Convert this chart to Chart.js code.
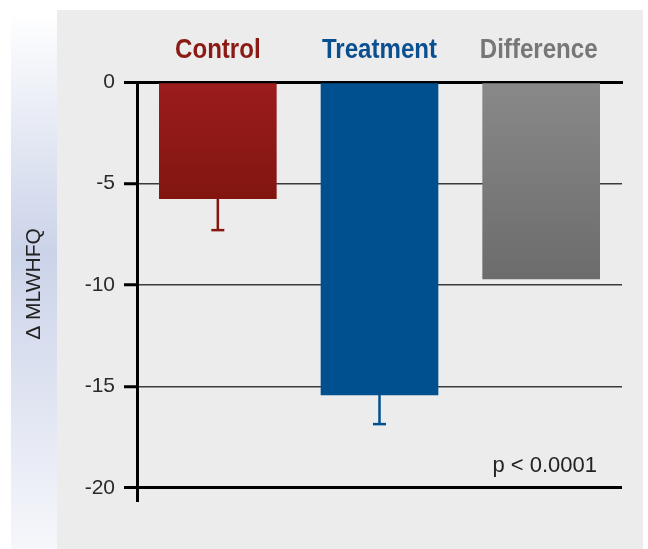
<!DOCTYPE html>
<html>
<head>
<meta charset="utf-8">
<script src="https://cdn.jsdelivr.net/npm/chart.js@4.4.1/dist/chart.umd.min.js"></script>
<style>
  html, body { margin: 0; padding: 0; background: #ffffff; }
  #wrap { width: 648px; height: 549px; position: relative; }
</style>
</head>
<body>
<div id="wrap"><canvas id="c" width="648" height="549"></canvas></div>
<script>
// ---- data ----
const categories = ['Control', 'Treatment', 'Difference'];
const meanChange = [-5.75, -15.42, -9.70];
const errorLow = [-7.30, -16.86, null];
const yTicks = [0, -5, -10, -15, -20];
const yTitle = '\u0394 MLWHFQ';
const pValueText = 'p < 0.0001';

// ---- styles ----
const labelColors = ['#8b1a14', '#0b4f90', '#777777'];
const barTop = ['#9b1c1c', '#00508f', '#898989'];
const barBottom = ['#82160f', '#00508f', '#6c6c6c'];
const errColors = ['#84170f', '#00508f', '#666666'];

const bgPlugin = {
  id: 'bg',
  beforeDraw(chart) {
    const ctx = chart.ctx;
    ctx.save();
    ctx.fillStyle = '#ffffff';
    ctx.fillRect(0, 0, chart.width, chart.height);
    const g = ctx.createLinearGradient(0, 12, 0, 549);
    g.addColorStop(0, '#ffffff');
    g.addColorStop(0.45, '#cbd3e9');
    g.addColorStop(1, '#f6f7fb');
    ctx.fillStyle = g;
    ctx.fillRect(11, 12, 46, 537);
    ctx.fillStyle = '#ececec';
    ctx.fillRect(57, 10, 586, 539);
    ctx.restore();
  }
};

const decoPlugin = {
  id: 'deco',
  afterDatasetsDraw(chart) {
    const ctx = chart.ctx;
    const meta = chart.getDatasetMeta(0);
    const ys = chart.scales.y;
    ctx.save();
    errorLow.forEach((v, i) => {
      if (v === null) return;
      const bar = meta.data[i];
      const x = bar.x;
      const y0 = bar.y;
      const y1 = ys.getPixelForValue(v);
      ctx.strokeStyle = errColors[i];
      ctx.lineWidth = 2.5;
      ctx.beginPath();
      ctx.moveTo(x, y0);
      ctx.lineTo(x, y1);
      ctx.stroke();
      ctx.beginPath();
      ctx.moveTo(x - 6.5, y1);
      ctx.lineTo(x + 6.5, y1);
      ctx.stroke();
    });
    ctx.restore();
  },
  afterDraw(chart) {
    const ctx = chart.ctx;
    const a = chart.chartArea;
    const meta = chart.getDatasetMeta(0);
    ctx.save();
    // category labels (bold, condensed)
    ctx.font = 'bold 28px "Liberation Sans", Arial, sans-serif';
    ctx.textAlign = 'center';
    ctx.textBaseline = 'alphabetic';
    categories.forEach((lab, i) => {
      const x = meta.data[i].x - (i === 2 ? 2.5 : 0);
      ctx.save();
      ctx.translate(x, a.top - 24);
      ctx.scale(0.86, 1);
      ctx.fillStyle = labelColors[i];
      ctx.fillText(lab, 0, 0);
      ctx.restore();
    });
    // p-value note
    ctx.fillStyle = '#222222';
    ctx.font = '22px "Liberation Sans", Arial, sans-serif';
    ctx.textAlign = 'right';
    ctx.fillText(pValueText, a.right - 25, a.bottom - 28);
    // y title
    ctx.translate(34, 284);
    ctx.rotate(-Math.PI / 2);
    ctx.textAlign = 'center';
    ctx.textBaseline = 'middle';
    ctx.font = '21px "Liberation Sans", Arial, sans-serif';
    ctx.fillText(yTitle, 0, 0);
    ctx.restore();
  }
};

new Chart(document.getElementById('c'), {
  type: 'bar',
  data: {
    labels: categories,
    datasets: [{
      data: meanChange,
      barThickness: 117,
      borderWidth: 0,
      backgroundColor(ctx) {
        const chart = ctx.chart;
        const area = chart.chartArea;
        if (!area) return barTop[ctx.dataIndex];
        const ys = chart.scales.y;
        const i = ctx.dataIndex;
        const g = chart.ctx.createLinearGradient(0, ys.getPixelForValue(0), 0, ys.getPixelForValue(meanChange[i]));
        g.addColorStop(0, barTop[i]);
        g.addColorStop(1, barBottom[i]);
        return g;
      }
    }]
  },
  options: {
    responsive: false,
    animation: false,
    devicePixelRatio: 1,
    layout: { padding: { left: 57, right: 26, top: 10, bottom: 49 } },
    plugins: { legend: { display: false }, tooltip: { enabled: false } },
    scales: {
      x: {
        position: 'top',
        offset: true,
        grid: { display: false },
        border: { display: true, color: '#000000', width: 3 },
        ticks: { display: false },
        afterFit(s) { s.height = 72; }
      },
      y: {
        min: -20.6,
        max: 0,
        afterBuildTicks(s) { s.ticks = yTicks.map(v => ({ value: v })); },
        grid: {
          drawOnChartArea: true,
          color: (c) => (c.tick && (c.tick.value === -20 || c.tick.value === 0)) ? '#000000' : '#3a3a3a',
          lineWidth: (c) => (c.tick && (c.tick.value === -20 || c.tick.value === 0)) ? 3 : 1.5,
          tickColor: '#000000',
          tickWidth: 3,
          tickLength: 13
        },
        border: { display: true, color: '#000000', width: 3 },
        ticks: {
          padding: 9,
          color: '#2a2a2a',
          font: { family: "'Liberation Sans', Arial, sans-serif", size: 21 },
          callback: (v) => String(v)
        },
        afterFit(s) { s.width = 80; }
      }
    }
  },
  plugins: [bgPlugin, decoPlugin]
});
</script>
</body>
</html>
